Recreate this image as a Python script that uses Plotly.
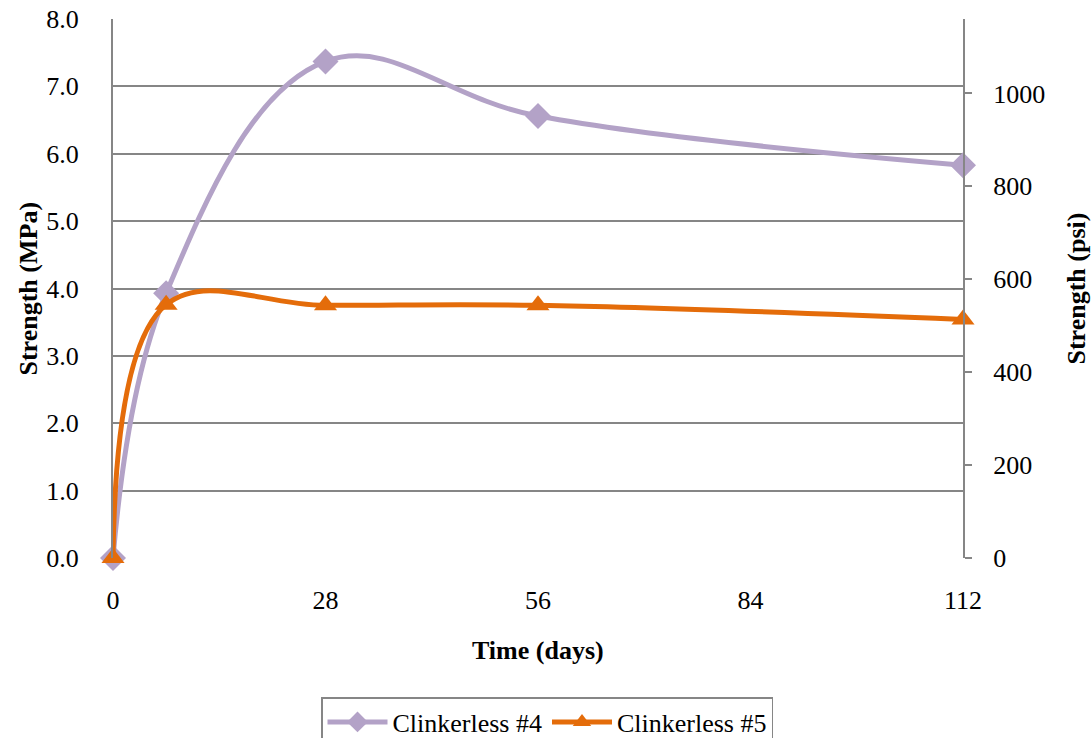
import plotly.graph_objects as go

days = [0, 7, 28, 56, 112]
clinkerless4 = [0.0, 3.93, 7.37, 6.56, 5.83]
clinkerless5 = [0.0, 3.76, 3.75, 3.75, 3.54]
x_ticks = [0, 28, 56, 84, 112]
y_ticks = [0, 1, 2, 3, 4, 5, 6, 7, 8]
psi_ticks = [0, 200, 400, 600, 800, 1000]
MPA_TO_PSI = 145.038

FONT = "Liberation Serif, Times New Roman, serif"
GRID = "#868686"
FS = 26

fig = go.Figure()
fig.add_trace(go.Scatter(
    x=days, y=clinkerless4, name="Clinkerless #4", mode="lines+markers",
    line=dict(color="#B3A2C7", width=5, shape="spline", smoothing=1.1),
    marker=dict(symbol="diamond", size=20, color="#B3A2C7"),
    cliponaxis=False,
))
fig.add_trace(go.Scatter(
    x=days, y=clinkerless5, name="Clinkerless #5", mode="lines+markers",
    line=dict(color="#E46C0A", width=5, shape="spline", smoothing=1.1),
    marker=dict(symbol="triangle-up", size=20, color="#E46C0A"),
    cliponaxis=False,
))
# invisible trace to carry the secondary (psi) axis
fig.add_trace(go.Scatter(
    x=days, y=[v * MPA_TO_PSI for v in clinkerless4], yaxis="y2",
    mode="lines", line=dict(width=0), opacity=0, showlegend=False, hoverinfo="skip",
))

fig.update_layout(
    width=1092, height=738,
    margin=dict(l=113, r=129, t=19, b=180, autoexpand=False),
    paper_bgcolor="white", plot_bgcolor="white",
    font=dict(family=FONT, size=FS, color="black"),
    showlegend=True,
    legend=dict(
        orientation="h", x=(547 - 113) / 850, xanchor="center",
        yref="container", y=1 - 697 / 738, yanchor="top",
        bordercolor=GRID, borderwidth=1.5, font=dict(size=FS, family=FONT, color="black"),
        itemwidth=60, tracegroupgap=0,
    ),
    xaxis=dict(
        range=[0, 112], tickvals=x_ticks, ticktext=[str(v) for v in x_ticks],
        showgrid=False, zeroline=False, showline=False, automargin=False,
        ticks="", ticklabelstandoff=24,
        tickfont=dict(size=FS, family=FONT, color="black"),
    ),
    yaxis=dict(
        range=[0, 8], tickvals=y_ticks, ticktext=[f"{v:.1f}" for v in y_ticks],
        showgrid=True, gridcolor=GRID, gridwidth=1.5, zeroline=False, automargin=False,
        showline=True, linecolor=GRID, linewidth=2, ticks="", ticklabelstandoff=27,
        tickfont=dict(size=FS, family=FONT, color="black"),
    ),
    yaxis2=dict(
        range=[0, 8 * MPA_TO_PSI], tickvals=psi_ticks, ticktext=[str(v) for v in psi_ticks],
        overlaying="y", side="right", anchor="x", automargin=False,
        showgrid=False, zeroline=False, showline=True, linecolor=GRID, linewidth=2,
        ticks="outside", ticklen=7, tickcolor=GRID, tickwidth=1.5, ticklabelstandoff=16,
        tickfont=dict(size=FS, family=FONT, color="black"),
    ),
    annotations=[
        dict(text="<b>Time (days)</b>", xref="paper", yref="paper", x=0.5, y=(558 - 650) / 539,
             xanchor="center", yanchor="middle", showarrow=False, font=dict(size=FS, family=FONT)),
        dict(text="<b>Strength (MPa)</b>", xref="paper", yref="paper", x=(28 - 113) / 850, y=0.5,
             xanchor="center", yanchor="middle", textangle=-90, showarrow=False,
             font=dict(size=FS, family=FONT)),
        dict(text="<b>Strength (psi)</b>", xref="paper", yref="paper", x=(1076 - 113) / 850, y=0.5,
             xanchor="center", yanchor="middle", textangle=-90, showarrow=False,
             font=dict(size=FS, family=FONT)),
    ],
)

fig.write_html("out.html")
